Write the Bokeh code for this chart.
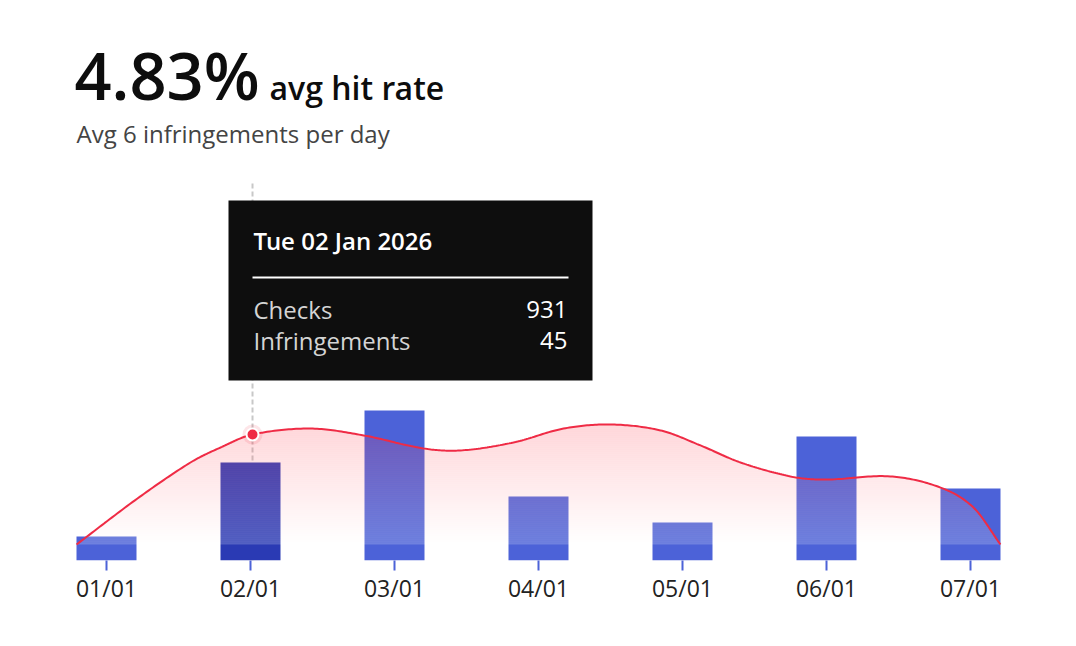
import numpy as np
from bokeh.plotting import figure
from bokeh.models import Range1d, FixedTicker, ColumnDataSource
from bokeh.core.properties import value
from bokeh.embed import file_html
from bokeh.resources import INLINE

# ---------------- data ----------------
dates = ["01/01", "02/01", "03/01", "04/01", "05/01", "06/01", "07/01"]
checks = [228, 931, 1425, 608, 361, 1178, 684]
highlight_index = 1

# hit-rate curve samples (x in day index, value in %)
rate_t = [-0.208, 0.215, 0.583, 0.792, 1.014, 1.417, 1.785, 2.20, 2.458, 2.826,
          3.174, 3.5, 3.847, 4.125, 4.403, 4.75, 4.979, 5.444, 5.792, 6.021, 6.208]
rate_pct = [0.0, 2.02, 3.60, 4.26, 4.83, 5.09, 4.79, 4.22, 4.13, 4.48,
            5.09, 5.27, 5.01, 4.35, 3.60, 2.99, 2.85, 2.99, 2.50, 1.62, 0.0]

avg_hit_rate = "4.83%"
avg_per_day = 6
tip_date = "Tue 02 Jan 2026"
tip_labels = ["Checks", "Infringements"]
tip_values = ["931", "45"]
hover_t = 1.014
hover_rate = 4.83

# ---------------- layout helpers ----------------
W, H = 1076, 646
FRAME_H = 560
PX_PER_DAY = 144.0
X0 = 106.0
CHECKS_PER_PX = 9.5
RATE_PX_PER_PCT = 110 / 4.83
RATE_BASE_PX = 16
BASE_K = 0.4  # empirical baseline correction (fraction of font size)


def X(px):
    return (px - X0) / PX_PER_DAY


def Y(py):
    return (FRAME_H - py) * CHECKS_PER_PX


def YB(py, size):
    return Y(py - BASE_K * size)


p = figure(width=W, height=H, output_backend="svg", toolbar_location=None,
           x_range=Range1d(X(0), X(W)), y_range=Range1d(0, FRAME_H * CHECKS_PER_PX),
           y_axis_location=None, min_border_left=0, min_border_right=0,
           min_border_top=0, min_border_bottom=H - FRAME_H)
p.extra_y_ranges = {"rate": Range1d(-RATE_BASE_PX / RATE_PX_PER_PCT,
                                    (FRAME_H - RATE_BASE_PX) / RATE_PX_PER_PCT)}
p.outline_line_color = None
p.xgrid.visible = False
p.ygrid.visible = False
p.background_fill_color = "white"
p.border_fill_color = "white"

BLUE = "#4c62d8"
BLUE_HI = "#2a3ab4"
RED = "#ef2b45"
FONT = value("Open Sans")
FONT_SB = value("Open Sans SemiBold")

# x axis
ax = p.xaxis[0]
ax.ticker = FixedTicker(ticks=list(range(len(dates))))
ax.major_label_overrides = {i: d for i, d in enumerate(dates)}
ax.axis_line_color = None
ax.major_tick_in = 0
ax.major_tick_out = 10
ax.major_tick_line_color = BLUE
ax.major_tick_line_width = 2
ax.minor_tick_line_color = None
ax.major_label_text_font = "Open Sans"
ax.major_label_text_font_size = "23px"
ax.major_label_text_color = "#222222"
ax.major_label_standoff = 1

# dashed hover line (under bars)
p.segment(x0=[hover_t], y0=[Y(183)], x1=[hover_t], y1=[0],
          line_color="#c8c8c8", line_width=2, line_dash="5 3")

# bars
bar_colors = [BLUE_HI if i == highlight_index else BLUE for i in range(len(dates))]
src = ColumnDataSource(dict(x=list(range(len(dates))), top=checks, color=bar_colors))
p.vbar(x="x", top="top", bottom=0, width=60 / PX_PER_DAY, fill_color="color",
       line_color=None, source=src)

# smooth curve (cubic Hermite through the read samples)
t = np.array(rate_t)
r = np.array(rate_pct)
m = np.zeros_like(r)
m[1:-1] = (r[2:] - r[:-2]) / (t[2:] - t[:-2])
m[0] = (r[1] - r[0]) / (t[1] - t[0])
m[-1] = (r[-1] - r[-2]) / (t[-1] - t[-2])
xs, ys = [], []
for i in range(len(t) - 1):
    h = t[i + 1] - t[i]
    for s in np.linspace(0, 1, 24, endpoint=False):
        h00 = 2 * s**3 - 3 * s**2 + 1
        h10 = s**3 - 2 * s**2 + s
        h01 = -2 * s**3 + 3 * s**2
        h11 = s**3 - s**2
        xs.append(t[i] + s * h)
        ys.append(h00 * r[i] + h10 * h * m[i] + h01 * r[i + 1] + h11 * h * m[i + 1])
xs.append(t[-1])
ys.append(r[-1])
xs = np.array(xs)
ys = np.array(ys)

# gradient area: pixel-aligned horizontal bands, colour from white (baseline)
# to red (top of area), each at opacity 0.2
top = ys.max()
band_px = 2
n_bands = int(np.ceil(top * RATE_PX_PER_PCT / band_px))
c_top = np.array([255, 48, 64])
c_bot = np.array([255, 255, 255])
for k in range(n_bands):
    lo = k * band_px / RATE_PX_PER_PCT
    hi = (k + 1) * band_px / RATE_PX_PER_PCT
    frac = min(1.0, (k + 0.5) * band_px / (top * RATE_PX_PER_PCT))
    c = (c_bot * (1 - frac) + c_top * frac).round().astype(int)
    col = "#%02x%02x%02x" % tuple(c)
    y2 = np.clip(ys, lo, hi)
    p.varea(x=xs, y1=np.full_like(ys, lo), y2=y2, fill_color=col, fill_alpha=0.2,
            y_range_name="rate")

p.line(xs, ys, line_color=RED, line_width=2, y_range_name="rate")

# hover dot
p.scatter([hover_t], [hover_rate], size=20, fill_color=RED, fill_alpha=0.12,
          line_color=None, y_range_name="rate")
p.scatter([hover_t], [hover_rate], size=12, fill_color=RED, line_color="white",
          line_width=2, y_range_name="rate")

# header
p.text(x=[X(74)], y=[YB(100, 65)], text=[avg_hit_rate], text_font=FONT_SB, text_font_size="65px",
       text_color="#0d0d0d", text_baseline="alphabetic")
p.text(x=[X(269)], y=[YB(100, 32)], text=["avg hit rate"], text_font=FONT_SB, text_font_size="32px",
       text_color="#0d0d0d", text_baseline="alphabetic")
p.text(x=[X(76)], y=[YB(143, 24)], text=[f"Avg {avg_per_day} infringements per day"], text_font=FONT,
       text_font_size="24px", text_color="#444444", text_baseline="alphabetic")

# tooltip
p.quad(left=[X(228)], right=[X(592)], top=[Y(200)], bottom=[Y(380)],
       fill_color="#0e0e0e", line_color=None)
p.text(x=[X(253)], y=[YB(250, 24)], text=[tip_date], text_font=FONT_SB, text_font_size="24px",
       text_color="white", text_baseline="alphabetic")
p.segment(x0=[X(252)], y0=[Y(277)], x1=[X(568)], y1=[Y(277)], line_color="white", line_width=2)
p.text(x=[X(253)] * 2, y=[YB(319, 24), YB(350, 24)], text=tip_labels, text_font=FONT,
       text_font_size="24px", text_color="#d4d4d4", text_baseline="alphabetic")
p.text(x=[X(567)] * 2, y=[YB(319, 24), YB(350, 24)], text=tip_values, text_font=FONT,
       text_font_size="24px", text_color="white", text_align="right",
       text_baseline="alphabetic")

open("out.html", "w").write(file_html(p, INLINE))
